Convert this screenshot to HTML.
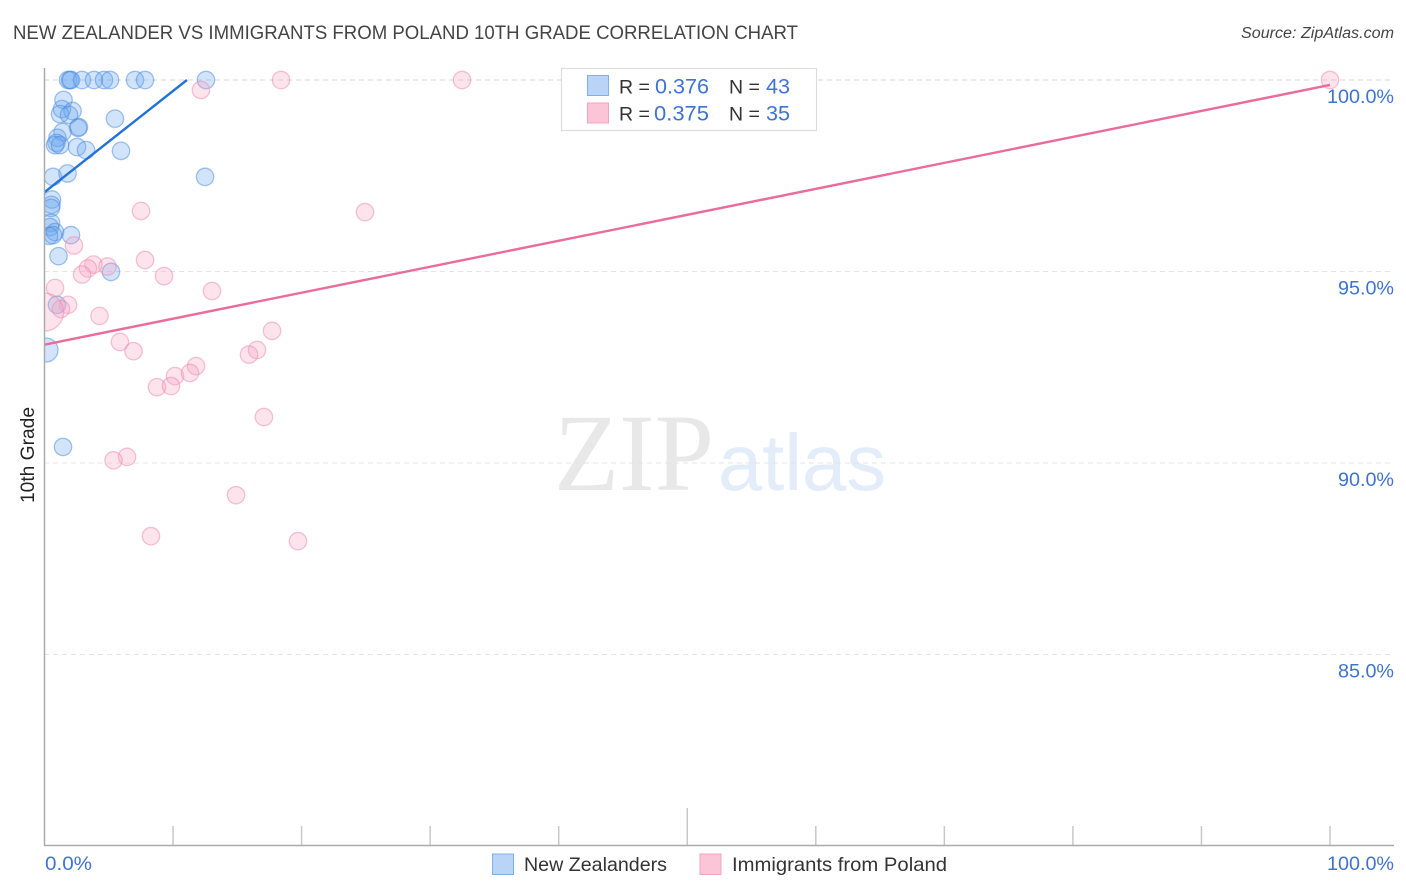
<!DOCTYPE html>
<html lang="en">
<head>
<meta charset="utf-8">
<title>New Zealander vs Immigrants from Poland 10th Grade Correlation Chart</title>
<style>
html,body{margin:0;padding:0;background:#fff;width:1406px;height:892px;overflow:hidden}
svg{display:block;font-family:"Liberation Sans",Arial,sans-serif}
</style>
</head>
<body>
<svg id="chart" width="1406" height="892" viewBox="0 0 1406 892" xmlns="http://www.w3.org/2000/svg">
  <defs>
    <clipPath id="plot-clip"><rect x="44.5" y="60" width="1350" height="786"/></clipPath>
  </defs>
  <text x="13" y="39" font-size="19.5" fill="#444" textLength="785" lengthAdjust="spacingAndGlyphs">NEW ZEALANDER VS IMMIGRANTS FROM POLAND 10TH GRADE CORRELATION CHART</text>
  <text x="1241" y="38" font-size="15.5" font-style="italic" fill="#444" textLength="153" lengthAdjust="spacingAndGlyphs">Source: ZipAtlas.com</text>

  <g>
    <text x="554" y="490" font-family="'Liberation Serif',serif" font-size="110" fill="#e8e8e8" textLength="160" lengthAdjust="spacingAndGlyphs">ZIP</text>
    <text x="718" y="490" font-size="80" fill="#e3ecf9" textLength="168" lengthAdjust="spacingAndGlyphs">atlas</text>
  </g>

  <g id="grid"></g>
  <g id="xticks"></g>
  <g id="ylabels"></g>

  <g id="points-blue" clip-path="url(#plot-clip)"></g>
  <g id="points-pink" clip-path="url(#plot-clip)"></g>
  <g id="trends"></g>

  <line x1="44.5" y1="68" x2="44.5" y2="846" stroke="#aaa" stroke-width="1.5"/>
  <line x1="44" y1="845.5" x2="1394" y2="845.5" stroke="#aaa" stroke-width="1.5"/>

  <text transform="translate(34,455) rotate(-90)" font-size="19" fill="#222" text-anchor="middle" textLength="96" lengthAdjust="spacingAndGlyphs">10th Grade</text>
  <text x="45" y="870" font-size="19.5" fill="#3f73d0" textLength="47" lengthAdjust="spacingAndGlyphs">0.0%</text>
  <text x="1394" y="870" font-size="19.5" fill="#3f73d0" text-anchor="end" textLength="67" lengthAdjust="spacingAndGlyphs">100.0%</text>

  <g>
    <rect x="561.5" y="68.5" width="255" height="62" fill="#fff" stroke="#ddd" stroke-width="1.2"/>
    <rect x="587.5" y="75.5" width="21" height="20" fill="#b9d4f7" stroke="#7fb0ea" stroke-width="1"/>
    <rect x="587.5" y="103" width="21" height="20" fill="#fcc5d7" stroke="#f3a4bd" stroke-width="1"/>
    <text x="619" y="93.5" font-size="19.5" fill="#333">R =</text>
    <text x="655" y="93.5" font-size="21" fill="#3f73d0" textLength="54" lengthAdjust="spacingAndGlyphs">0.376</text>
    <text x="729" y="93.5" font-size="19.5" fill="#333">N =</text>
    <text x="766" y="93.5" font-size="21" fill="#3f73d0" textLength="24" lengthAdjust="spacingAndGlyphs">43</text>
    <text x="619" y="120.5" font-size="19.5" fill="#333">R =</text>
    <text x="654" y="120.5" font-size="21" fill="#3f73d0" textLength="55" lengthAdjust="spacingAndGlyphs">0.375</text>
    <text x="729" y="120.5" font-size="19.5" fill="#333">N =</text>
    <text x="766" y="120.5" font-size="21" fill="#3f73d0" textLength="24" lengthAdjust="spacingAndGlyphs">35</text>
  </g>

  <g>
    <rect x="492.5" y="854" width="21" height="20.5" fill="#b9d4f7" stroke="#7fb0ea" stroke-width="1"/>
    <text x="524" y="871" font-size="19.5" fill="#333" textLength="143" lengthAdjust="spacingAndGlyphs">New Zealanders</text>
    <rect x="700" y="854" width="21" height="20.5" fill="#fcc5d7" stroke="#f3a4bd" stroke-width="1"/>
    <text x="732" y="871" font-size="19.5" fill="#333" textLength="215" lengthAdjust="spacingAndGlyphs">Immigrants from Poland</text>
  </g>
</svg>
<script>
const yTicks = [100, 95, 90, 85];
const yTickLabels = ["100.0%", "95.0%", "90.0%", "85.0%"];
const xTicks = [0, 10, 20, 30, 40, 50, 60, 70, 80, 90, 100];

const blueX = [1.83,1.98,2.06,2.92,3.85,4.63,5.10,7.04,7.82,12.56,1.48,1.36,2.18,1.21,1.91,5.48,2.68,2.61,1.40,1.01,0.93,0.82,1.21,2.53,3.23,5.95,0.66,1.79,12.49,0.58,0.54,0.51,0.51,0.43,0.82,0.66,0.35,2.06,1.09,5.17,0.97,0.12,1.44];
const blueY = [100,100,100,100,100,100,100,100,100,100,99.48,99.24,99.19,99.11,99.09,98.99,98.77,98.75,98.64,98.49,98.36,98.30,98.30,98.25,98.17,98.15,97.47,97.56,97.47,96.88,96.74,96.66,96.27,96.16,96.03,95.95,95.93,95.95,95.40,94.99,94.13,92.95,90.42];
const blueWeight = [1,1,1,1,1,1,1,1,1,1,1,1,1,1,1,1,1,1,1,1,1,1,1,1,1,1,1,1,1,1,1,1,1,1,1,1,1,1,1,1,1,1.9,1];

const pinkX = [12.17,18.40,32.48,100,7.51,24.93,2.29,3.81,4.90,3.38,2.92,7.82,9.30,13.03,0.82,1.83,1.28,0,4.28,5.87,6.92,17.70,16.53,15.91,11.79,10.15,11.32,8.75,9.84,17.07,6.42,5.37,14.90,8.28,19.72];
const pinkY = [99.74,100,100,100,96.58,96.55,95.68,95.18,95.13,95.08,94.92,95.30,94.88,94.49,94.57,94.13,94.02,93.94,93.84,93.16,92.92,93.45,92.95,92.83,92.53,92.27,92.35,91.98,92.01,91.20,90.16,90.07,89.16,88.09,87.96];
const pinkWeight = [1,1,1,1,1,1,1,1,1,1,1,1,1,1,1,1,1,4.8,1,1,1,1,1,1,1,1,1,1,1,1,1,1,1,1,1];

const blueTrendX = [0, 11.08];
const blueTrendY = [97.07, 100];
const pinkTrendX = [0, 100];
const pinkTrendY = [93.09, 99.87];

const SVG_NS = "http://www.w3.org/2000/svg";
function xPos(v) { return 44.5 + v * 12.855; }
function yPos(v) { return 80 + (100 - v) * 38.3; }
function radius(w) { return 8.7 * Math.sqrt(w); }
function make(tag, attrs, parent) {
  const el = document.createElementNS(SVG_NS, tag);
  for (const k in attrs) el.setAttribute(k, attrs[k]);
  parent.appendChild(el);
  return el;
}

const grid = document.getElementById("grid");
const ylabels = document.getElementById("ylabels");
yTicks.forEach(function (t, i) {
  const line = make("line", { x1: 44, x2: 1394, y1: yPos(t), y2: yPos(t), stroke: i === 0 ? "#d4d4d4" : "#e4e4e4", "stroke-width": 1, "stroke-dasharray": "5 4" }, grid);
  
  
  const label = make("text", { x: 1394, y: yPos(t) + 23, "font-size": 19.5, fill: "#3f73d0", "text-anchor": "end", textLength: i === 0 ? 67 : 56, lengthAdjust: "spacingAndGlyphs" }, ylabels);
  label.textContent = yTickLabels[i];
  
  
});

const xticks = document.getElementById("xticks");
xTicks.forEach(function (t) {
  if (t === 0) return;
  const tick = make("line", { x1: xPos(t), x2: xPos(t), y1: t === 50 ? 808 : 826, y2: 845.5, stroke: "#c8c8c8", "stroke-width": 1.5 }, xticks);
  
  
});

const blueGroup = document.getElementById("points-blue");
blueX.forEach(function (v, i) {
  const c = make("circle", { cx: xPos(v), cy: yPos(blueY[i]), r: radius(blueWeight[i]), fill: "#6ba6ee", "fill-opacity": 0.3, stroke: "#4a8ade", "stroke-opacity": 0.5, "stroke-width": 1.3 }, blueGroup);
  
  
});

const pinkGroup = document.getElementById("points-pink");
pinkX.forEach(function (v, i) {
  const c = make("circle", { cx: xPos(v), cy: yPos(pinkY[i]), r: radius(pinkWeight[i]), fill: "#f7a3bf", "fill-opacity": 0.3, stroke: "#ec8aab", "stroke-opacity": 0.5, "stroke-width": 1.3 }, pinkGroup);
  
  
});

const trends = document.getElementById("trends");
const blueTrend = make("line", { x1: xPos(blueTrendX[0]), y1: yPos(blueTrendY[0]), x2: xPos(blueTrendX[1]), y2: yPos(blueTrendY[1]), stroke: "#2272d8", "stroke-width": 2.4 }, trends);


const pinkTrend = make("line", { x1: xPos(pinkTrendX[0]), y1: yPos(pinkTrendY[0]), x2: xPos(pinkTrendX[1]), y2: yPos(pinkTrendY[1]), stroke: "#e96c9b", "stroke-width": 2.4 }, trends);


</script>
</body>
</html>
